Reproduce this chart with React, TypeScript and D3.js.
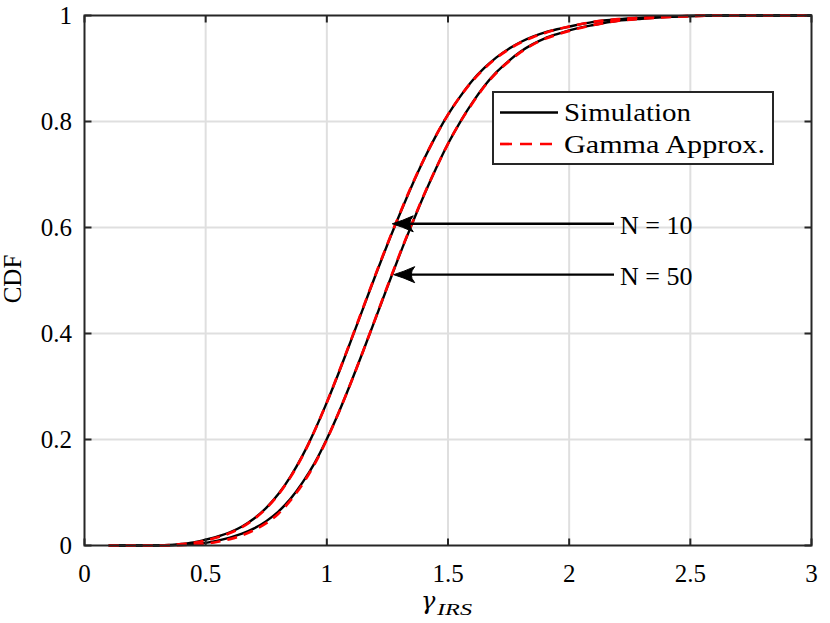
import React from "react";
import * as d3 from "d3";

const xGrid = [0.1, 0.2, 0.3, 0.35, 0.4, 0.45, 0.5, 0.55, 0.6, 0.65, 0.7, 0.75, 0.8, 0.85, 0.9, 0.95, 1.0, 1.05, 1.1, 1.15, 1.2, 1.25, 1.3, 1.35, 1.4, 1.45, 1.5, 1.55, 1.6, 1.65, 1.7, 1.75, 1.8, 1.85, 1.9, 1.95, 2.0, 2.1, 2.2, 2.3, 2.4, 2.5, 2.6, 2.8, 3.0];

const simN10 = [0, 0, 0.0003, 0.001, 0.003, 0.006, 0.011, 0.017, 0.025, 0.036, 0.051, 0.071, 0.097, 0.130, 0.170, 0.217, 0.270, 0.327, 0.387, 0.448, 0.509, 0.568, 0.624, 0.678, 0.728, 0.773, 0.813, 0.847, 0.877, 0.901, 0.921, 0.937, 0.950, 0.960, 0.968, 0.974, 0.979, 0.988, 0.993, 0.996, 0.998, 0.999, 1, 1, 1];
const gammaN10 = [0, 0, 0.0002, 0.0008, 0.0025, 0.005, 0.0095, 0.0155, 0.0235, 0.0345, 0.05, 0.07, 0.096, 0.129, 0.169, 0.217, 0.270, 0.328, 0.388, 0.449, 0.51, 0.569, 0.625, 0.679, 0.728, 0.773, 0.813, 0.847, 0.876, 0.9, 0.92, 0.936, 0.949, 0.959, 0.967, 0.974, 0.979, 0.988, 0.993, 0.996, 0.998, 0.999, 1, 1, 1];
const simN50 = [0, 0, 0.0001, 0.0004, 0.0015, 0.0023, 0.005, 0.0093, 0.015, 0.0223, 0.0323, 0.046, 0.064, 0.088, 0.119, 0.156, 0.201, 0.252, 0.308, 0.367, 0.427, 0.488, 0.548, 0.605, 0.660, 0.711, 0.758, 0.799, 0.835, 0.867, 0.893, 0.914, 0.932, 0.946, 0.957, 0.965, 0.972, 0.982, 0.990, 0.994, 0.997, 0.999, 1, 1, 1];
const gammaN50 = [0, 0, 0.00005, 0.0002, 0.0008, 0.0015, 0.0035, 0.007, 0.012, 0.019, 0.029, 0.042, 0.06, 0.085, 0.116, 0.154, 0.2, 0.252, 0.308, 0.367, 0.428, 0.489, 0.549, 0.606, 0.661, 0.711, 0.758, 0.799, 0.834, 0.866, 0.892, 0.913, 0.931, 0.945, 0.956, 0.964, 0.971, 0.982, 0.990, 0.994, 0.997, 0.999, 1, 1, 1];

const xTicks = [0, 0.5, 1, 1.5, 2, 2.5, 3];
const yTicks = [0, 0.2, 0.4, 0.6, 0.8, 1];
const legendLabels = ["Simulation", "Gamma Approx."];
const annotations = [
  { label: "N = 10", y: 0.607, tipX: 1.27 },
  { label: "N = 50", y: 0.511, tipX: 1.276 },
];

const W = 830, H = 623;
const L = 84.5, R = 811.5, T = 15.5, B = 545.5;
const font = "'Liberation Serif', 'Times New Roman', serif";

export default function App() {
  const x = d3.scaleLinear().domain([0, 3]).range([L, R]);
  const y = d3.scaleLinear().domain([0, 1]).range([B, T]);
  const line = (vals: number[]) =>
    d3.line<number>().x((_, i) => x(xGrid[i])).y((d) => y(d)).curve(d3.curveMonotoneX)(vals) || "";
  const axisColor = "#262626";
  const tickLen = 7;
  return (
    <svg width={W} height={H} style={{ position: "absolute", left: 0, top: 0, background: "#fff" }} fontFamily={font}>
      <rect x={0} y={0} width={W} height={H} fill="#fff" />
      {xTicks.slice(1, -1).map((t) => (
        <line key={"gx" + t} x1={x(t)} x2={x(t)} y1={T} y2={B} stroke="#dfdfdf" strokeWidth={2} />
      ))}
      {yTicks.slice(1, -1).map((t) => (
        <line key={"gy" + t} x1={L} x2={R} y1={y(t)} y2={y(t)} stroke="#dfdfdf" strokeWidth={2} />
      ))}
      <g fill="none" strokeLinejoin="round">
        <path d={line(simN10)} stroke="#000" strokeWidth={2.4} />
        <path d={line(simN50)} stroke="#000" strokeWidth={2.4} />
        <path d={line(gammaN10)} stroke="#ff0000" strokeWidth={2.7} strokeDasharray="10,7" />
        <path d={line(gammaN50)} stroke="#ff0000" strokeWidth={2.7} strokeDasharray="10,7" />
      </g>
      <rect x={L} y={T} width={R - L} height={B - T} fill="none" stroke={axisColor} strokeWidth={2} />
      {xTicks.map((t) => (
        <g key={"xt" + t}>
          <line x1={x(t)} x2={x(t)} y1={B} y2={B - tickLen} stroke={axisColor} strokeWidth={2} />
          <line x1={x(t)} x2={x(t)} y1={T} y2={T + tickLen} stroke={axisColor} strokeWidth={2} />
          <text x={x(t)} y={582} textAnchor="middle" fontSize={25} fill="#000">{String(t)}</text>
        </g>
      ))}
      {yTicks.map((t) => (
        <g key={"yt" + t}>
          <line x1={L} x2={L + tickLen} y1={y(t)} y2={y(t)} stroke={axisColor} strokeWidth={2} />
          <line x1={R} x2={R - tickLen} y1={y(t)} y2={y(t)} stroke={axisColor} strokeWidth={2} />
          <text x={72} y={y(t) + 8.5} textAnchor="end" fontSize={25} fill="#000">{String(t)}</text>
        </g>
      ))}
      <text transform={`translate(21,279) rotate(-90)`} textAnchor="middle" fontSize={25} fill="#000">CDF</text>
      <text x={421} y={609} fontSize={24} fontStyle="italic" fill="#000" fontFamily="'DejaVu Serif', serif">γ</text>
      <text x={437} y={615} fontSize={17} fontStyle="italic" fill="#000" textLength={35} lengthAdjust="spacingAndGlyphs">IRS</text>
      {annotations.map((a) => {
        const ty = y(a.y);
        const tip = x(a.tipX);
        return (
          <g key={a.label}>
            <line x1={614} x2={tip + 12} y1={ty} y2={ty} stroke="#000" strokeWidth={2.4} />
            <path
              d={`M${tip},${ty} Q${tip + 10},${ty - 3} ${tip + 21},${ty - 8} Q${tip + 14},${ty} ${tip + 21},${ty + 8} Q${tip + 10},${ty + 3} ${tip},${ty} Z`}
              fill="#000"
              stroke="#000"
              strokeWidth={1}
            />
            <text x={620} y={ty + 10} fontSize={26} fill="#000">{a.label}</text>
          </g>
        );
      })}
      <rect x={493} y={92} width={280} height={72} fill="#fff" stroke={axisColor} strokeWidth={2} />
      <line x1={500} x2={558} y1={112.5} y2={112.5} stroke="#000" strokeWidth={2.4} />
      <line x1={500} x2={558} y1={144} y2={144} stroke="#ff0000" strokeWidth={2.7} strokeDasharray="12,8" />
      <text x={564} y={121} fontSize={26} fill="#000" textLength={127} lengthAdjust="spacingAndGlyphs">{legendLabels[0]}</text>
      <text x={564} y={153} fontSize={26} fill="#000" textLength={201} lengthAdjust="spacingAndGlyphs">{legendLabels[1]}</text>
    </svg>
  );
}
